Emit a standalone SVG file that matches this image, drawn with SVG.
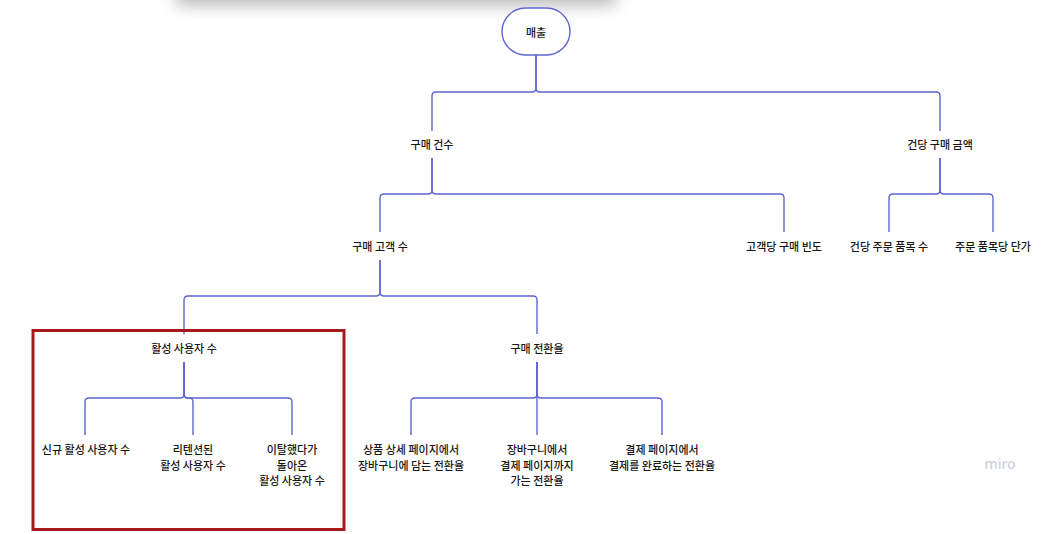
<svg xmlns="http://www.w3.org/2000/svg" width="1057" height="534" viewBox="0 0 1057 534">
<defs>
<filter id="blur" x="-20%" y="-100%" width="140%" height="300%"><feGaussianBlur stdDeviation="8"/></filter>
<style>
.t{font-family:"Noto Sans CJK KR","Noto Sans",sans-serif;font-size:11px;font-weight:500;fill:#161616;text-anchor:middle;dominant-baseline:central}
.c{fill:none;stroke:#5d66cf;stroke-width:1.4}
.n{fill:#fff;stroke:#5d66cf;stroke-width:1.4}
</style>
</defs>
<rect width="1057" height="534" fill="#fff"/>
<rect x="176" y="-40" width="440" height="46" fill="#8a8a8a" opacity="0.55" filter="url(#blur)"/>
<rect x="170" y="-60" width="452" height="60" fill="#fff"/>
<g id="connectors">
<path class="c" d="M536 55V88Q536 92 532 92H436Q432 92 432 96V131"/>
<path class="c" d="M536 55V88Q536 92 540 92H936Q940 92 940 96V131"/>
<path class="c" d="M432 158V190Q432 194 428 194H384Q380 194 380 198V232"/>
<path class="c" d="M432 158V190Q432 194 436 194H780Q784 194 784 198V232"/>
<path class="c" d="M940 158V190Q940 194 936 194H893Q889 194 889 198V232"/>
<path class="c" d="M940 158V190Q940 194 944 194H989Q993 194 993 198V232"/>
<path class="c" d="M380 260V292Q380 296 376 296H188Q184 296 184 300V334"/>
<path class="c" d="M380 260V292Q380 296 384 296H533Q537 296 537 300V334"/>
<path class="c" d="M184 362V394Q184 398 180 398H89Q85 398 85 402V435"/>
<path class="c" d="M184 362V394Q184 398 188 398H189Q193 398 193 402V435"/>
<path class="c" d="M184 362V394Q184 398 188 398H288Q292 398 292 402V435"/>
<path class="c" d="M537 362V394Q537 398 533 398H415Q411 398 411 402V435"/>
<path class="c" d="M537 362V435"/>
<path class="c" d="M537 362V394Q537 398 541 398H658Q662 398 662 402V435"/>
</g>
<g id="n-root"><rect class="n" x="502" y="8" width="68" height="47" rx="23.5"/><text class="t" x="536" y="32">매출</text></g>
<g id="n-count"><text class="t" x="432" y="144">구매 건수</text></g>
<g id="n-amount"><text class="t" x="940" y="144">건당 구매 금액</text></g>
<g id="n-customers"><text class="t" x="380" y="246">구매 고객 수</text></g>
<g id="n-freq"><text class="t" x="784" y="246">고객당 구매 빈도</text></g>
<g id="n-items"><text class="t" x="889" y="246">건당 주문 품목 수</text></g>
<g id="n-price"><text class="t" x="993" y="246">주문 품목당 단가</text></g>
<g id="n-active"><text class="t" x="184" y="348">활성 사용자 수</text></g>
<g id="n-conv"><text class="t" x="537" y="348">구매 전환율</text></g>
<g id="n-new"><text class="t" x="86" y="449">신규 활성 사용자 수</text></g>
<g id="n-retained"><text class="t" x="193" y="449">리텐션된</text><text class="t" x="193" y="465">활성 사용자 수</text></g>
<g id="n-returned"><text class="t" x="292" y="449">이탈했다가</text><text class="t" x="292" y="465">돌아온</text><text class="t" x="292" y="480">활성 사용자 수</text></g>
<g id="n-cart"><text class="t" x="411" y="449">상품 상세 페이지에서</text><text class="t" x="411" y="465">장바구니에 담는 전환율</text></g>
<g id="n-checkout"><text class="t" x="537" y="449">장바구니에서</text><text class="t" x="537" y="465">결제 페이지까지</text><text class="t" x="537" y="480">가는 전환율</text></g>
<g id="n-complete"><text class="t" x="662" y="449">결제 페이지에서</text><text class="t" x="662" y="465">결제를 완료하는 전환율</text></g>
<rect id="highlight" x="33" y="330.5" width="311" height="199" fill="none" stroke="#a8191c" stroke-width="3"/>
<text x="1000" y="469" style="font-family:'Noto Sans',sans-serif;font-size:14px;fill:#cfd0dc;text-anchor:middle;font-weight:500">miro</text>
</svg>
